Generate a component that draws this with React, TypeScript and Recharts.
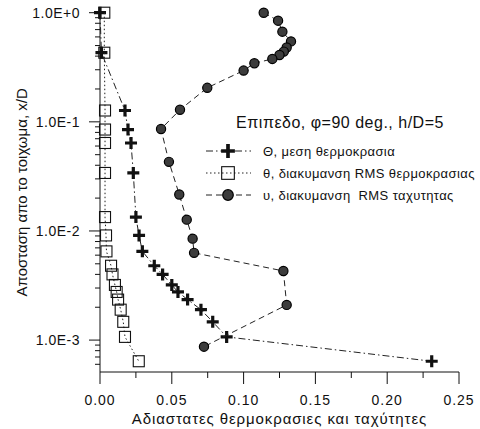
import React from 'react';
import { ScatterChart, Scatter, XAxis, YAxis, Legend, Label } from 'recharts';

// ---- data ----
// shared wall distances (x/D) for both temperature series
const thetaDist = [1.0, 0.43, 0.127, 0.085, 0.064, 0.034, 0.0134, 0.0091, 0.0065, 0.0048, 0.004, 0.0032, 0.00276, 0.00235, 0.0019, 0.00147, 0.00107, 0.00064];
const thetaMean = [0.0, 0.001, 0.0174, 0.0195, 0.0216, 0.0232, 0.025, 0.0272, 0.0295, 0.0378, 0.0436, 0.05, 0.0543, 0.061, 0.0703, 0.0785, 0.0882, 0.231];
const thetaRms = [0.003, 0.003, 0.0035, 0.0035, 0.0035, 0.0035, 0.0035, 0.0042, 0.0045, 0.0077, 0.0087, 0.0104, 0.0116, 0.0126, 0.0144, 0.0162, 0.0174, 0.027];
const uDist = [1.0, 0.845, 0.67, 0.546, 0.48, 0.44, 0.41, 0.377, 0.344, 0.295, 0.205, 0.129, 0.086, 0.043, 0.0216, 0.0127, 0.0085, 0.0063, 0.0043, 0.0021, 0.00087];
const uRms = [0.114, 0.124, 0.127, 0.133, 0.13, 0.128, 0.125, 0.12, 0.1075, 0.1, 0.0747, 0.0557, 0.0425, 0.048, 0.0552, 0.0604, 0.0645, 0.0655, 0.1277, 0.13, 0.0724];

const xTicks = [0, 0.025, 0.05, 0.075, 0.1, 0.125, 0.15, 0.175, 0.2, 0.225, 0.25];
const xMajorTicks = [0, 0.05, 0.1, 0.15, 0.2, 0.25];
const xTickLabels = ['0.00', '0.05', '0.10', '0.15', '0.20', '0.25'];
const yMajorTicks = [0.001, 0.01, 0.1, 1];
const yTickLabels = ['1.0E-3', '1.0E-2', '1.0E-1', '1.0E+0'];
const yMinorTicks = [
  0.0006, 0.0007, 0.0008, 0.0009,
  0.002, 0.003, 0.004, 0.005, 0.006, 0.007, 0.008, 0.009,
  0.02, 0.03, 0.04, 0.05, 0.06, 0.07, 0.08, 0.09,
  0.2, 0.3, 0.4, 0.5, 0.6, 0.7, 0.8, 0.9,
];
const yTicks = [...yMajorTicks, ...yMinorTicks].sort((a, b) => a - b);

const legendTitle = 'Επιπεδο, φ=90 deg., h/D=5';
const seriesNames = ['Θ, μεση θερμοκρασια', 'θ, διακυμανση RMS θερμοκρασιας', 'υ, διακυμανση  RMS ταχυτητας'];
const xTitle = 'Αδιαστατες θερμοκρασιες και ταχύτητες';
const yTitle = 'Αποσταση απο το τοιχωμα, x/D';

const meanData = thetaDist.map((y, i) => ({ x: thetaMean[i], y }));
const rmsData = thetaDist.map((y, i) => ({ x: thetaRms[i], y }));
const uData = uDist.map((y, i) => ({ x: uRms[i], y }));

const FONT = '"Liberation Sans", Arial, Helvetica, sans-serif';
const INK = '#111';

// ---- markers ----
const crossPath = (cx: number, cy: number, s = 1) => {
  const a = 6 * s;
  const t = 1.6 * s;
  return `M${cx - t},${cy - a}h${2 * t}v${a - t}h${a - t}v${2 * t}h${-(a - t)}v${a - t}h${-2 * t}v${-(a - t)}h${-(a - t)}v${-2 * t}h${a - t}z`;
};
const CrossMark = ({ cx, cy, s = 1 }: any) => <path d={crossPath(cx, cy, s)} fill={INK} />;
const SquareMark = ({ cx, cy, s = 1 }: any) => (
  <rect x={cx - 5.5 * s} y={cy - 5.5 * s} width={11 * s} height={11 * s} fill="none" stroke={INK} strokeWidth={1.1} />
);
const CircleMark = ({ cx, cy, s = 1 }: any) => (
  <circle cx={cx} cy={cy} r={4.6 * s} fill="#3c3c3c" stroke="#000" strokeWidth={1.2} />
);

const series = [
  { name: seriesNames[0], data: meanData, dash: '7 3 1.5 3', Mark: CrossMark },
  { name: seriesNames[1], data: rmsData, dash: '1.5 2.5', Mark: SquareMark },
  { name: seriesNames[2], data: uData, dash: '6 4', Mark: CircleMark },
];

// ---- ticks ----
const YTick = (props: any) => {
  const { x, y, payload } = props;
  const v = payload.value;
  const i = yMajorTicks.findIndex((m) => Math.abs(m - v) / m < 1e-6);
  const major = i >= 0;
  return (
    <g>
      <line x1={x} x2={x - (major ? 11 : 5)} y1={y} y2={y} stroke={INK} strokeWidth={1} />
      {major && (
        <text x={x - 20} y={y} dy={5} textAnchor="end" fontFamily={FONT} fontSize={14} letterSpacing={0.5} fill={INK}>
          {yTickLabels[i]}
        </text>
      )}
    </g>
  );
};

const XTick = (props: any) => {
  const { x, y, payload } = props;
  const v = payload.value;
  const i = xMajorTicks.findIndex((m) => Math.abs(m - v) < 1e-9);
  const major = i >= 0;
  return (
    <g>
      <line x1={x} x2={x} y1={y} y2={y + (major ? 12 : 6)} stroke={INK} strokeWidth={1} />
      {major && (
        <text x={x} y={y + 33} textAnchor="middle" fontFamily={FONT} fontSize={14} letterSpacing={1} fill={INK}>
          {xTickLabels[i]}
        </text>
      )}
    </g>
  );
};

// ---- legend ----
const LegendBox = () => {
  const rowY = [151, 173, 195];
  const symX = 228;
  return (
    <svg width={480} height={429} style={{ display: 'block' }}>
      <text x={340} y={122} dy={6} textAnchor="middle" fontFamily={FONT} fontSize={16} letterSpacing={0.5} fill={INK}>
        {legendTitle}
      </text>
      {series.map((s, i) => {
        const M = s.Mark;
        return (
          <g key={s.name}>
            <line x1={206} x2={251} y1={rowY[i]} y2={rowY[i]} stroke="#222" strokeWidth={1} strokeDasharray={s.dash} />
            <M cx={symX} cy={rowY[i]} s={1.15} />
            <text x={263} y={rowY[i]} dy={4.5} fontFamily={FONT} fontSize={13} letterSpacing={0.4} fill={INK} style={{ whiteSpace: 'pre' }}>
              {s.name}
            </text>
          </g>
        );
      })}
    </svg>
  );
};

export default function App() {
  return (
    <div style={{ position: 'absolute', left: 0, top: 0, background: '#fff' }}>
      <ScatterChart width={480} height={429} margin={{ top: 12.7, right: 21, bottom: 27, left: 40 }}>
        <XAxis
          type="number"
          dataKey="x"
          domain={[0, 0.25]}
          ticks={xTicks}
          interval={0}
          tickSize={0}
          tickMargin={0}
          tickLine={false}
          tick={<XTick />}
          height={30}
          axisLine={{ stroke: INK, strokeWidth: 1 }}
        >
          <Label
            content={(p: any) => {
              const vb = p.viewBox || { x: 100, y: 372, width: 359 };
              return (
                <text x={vb.x + vb.width / 2} y={vb.y + 47} dy={5} textAnchor="middle" fontFamily={FONT} fontSize={15} letterSpacing={0.9} fill={INK}>
                  {xTitle}
                </text>
              );
            }}
          />
        </XAxis>
        <YAxis
          type="number"
          dataKey="y"
          scale="log"
          domain={[0.00051, 1]}
          ticks={yTicks}
          interval={0}
          tickSize={0}
          tickMargin={0}
          tickLine={false}
          tick={<YTick />}
          width={60}
          axisLine={{ stroke: INK, strokeWidth: 1 }}
        >
          <Label
            content={(p: any) => {
              const vb = p.viewBox || { x: 40, y: 12.7, height: 359 };
              const cx = 22;
              const cy = vb.y + vb.height / 2;
              return (
                <text x={cx} y={cy} dy={5} textAnchor="middle" transform={`rotate(-90, ${cx}, ${cy})`} fontFamily={FONT} fontSize={15} fill={INK}>
                  {yTitle}
                </text>
              );
            }}
          />
        </YAxis>
        {series.map((s) => (
          <Scatter
            key={s.name}
            name={s.name}
            data={s.data}
            line={{ stroke: '#222', strokeWidth: 1, strokeDasharray: s.dash }}
            lineType="joint"
            shape={(p: any) => <s.Mark cx={p.cx} cy={p.cy} />}
            isAnimationActive={false}
          />
        ))}
        <Legend
          layout="horizontal"
          verticalAlign="middle"
          align="center"
          wrapperStyle={{ position: 'absolute', left: 0, top: 0, width: 480, height: 429, pointerEvents: 'none' }}
          content={() => <LegendBox />}
        />
      </ScatterChart>
    </div>
  );
}
